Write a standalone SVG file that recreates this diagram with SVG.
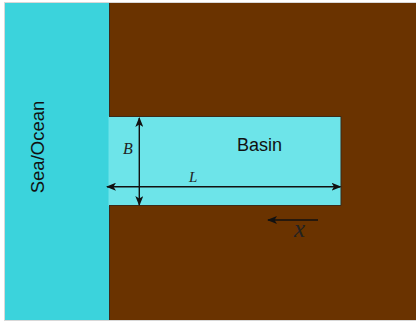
<svg xmlns="http://www.w3.org/2000/svg" width="416" height="323" viewBox="0 0 416 323">
<defs>
<style>
.dim{stroke:#111;stroke-width:1.4;fill:none}
.math{font-family:"Liberation Serif","DejaVu Serif",serif;font-style:italic;fill:#222}
.lbl{font-family:"Liberation Sans",Arial,sans-serif;fill:#111}
</style>
<marker id="ah" viewBox="0 0 10 8" refX="9" refY="4" markerWidth="10" markerHeight="8" markerUnits="userSpaceOnUse" orient="auto-start-reverse">
<path d="M0,0 L10,4 L0,8 L2.5,4 Z" fill="#111"/>
</marker>
</defs>
<rect x="0" y="0" width="416" height="323" fill="#fff"/>
<rect x="4.5" y="2.5" width="412" height="318" fill="none" stroke="#d8d8d8" stroke-width="1"/>
<g id="land">
<rect x="109.5" y="3" width="306.5" height="317" fill="#6a3300"/>
</g>
<g id="sea">
<rect x="5" y="3" width="104" height="317" fill="#3bd3dc"/>
<line x1="109.5" y1="3" x2="109.5" y2="320" stroke="#3a2b1c" stroke-width="1"/>
<text class="lbl" x="0" y="0" font-size="18.5" text-anchor="middle" transform="translate(44,147) rotate(-90)">Sea/Ocean</text>
</g>
<g id="basin">
<rect x="108.5" y="116" width="232.5" height="90" fill="#6de4e9"/>
<path d="M109,116.5 H341 V205.5 H109" fill="none" stroke="#3d2a18" stroke-width="1"/>
<text class="lbl" x="259.5" y="151" font-size="18" text-anchor="middle">Basin</text>
</g>
<g id="connectors">
<line class="dim" x1="139.3" y1="118" x2="139.3" y2="205" marker-start="url(#ah)" marker-end="url(#ah)"/>
<line class="dim" x1="107" y1="186.7" x2="340.5" y2="186.7" marker-start="url(#ah)" marker-end="url(#ah)"/>
<line class="dim" x1="318" y1="220" x2="268" y2="220" marker-end="url(#ah)"/>
</g>
<g id="labels">
<text class="math" x="123" y="154" font-size="16">B</text>
<text class="math" x="189" y="181.5" font-size="15">L</text>
<text class="math" x="294" y="237" font-size="25">x</text>
</g>
</svg>
